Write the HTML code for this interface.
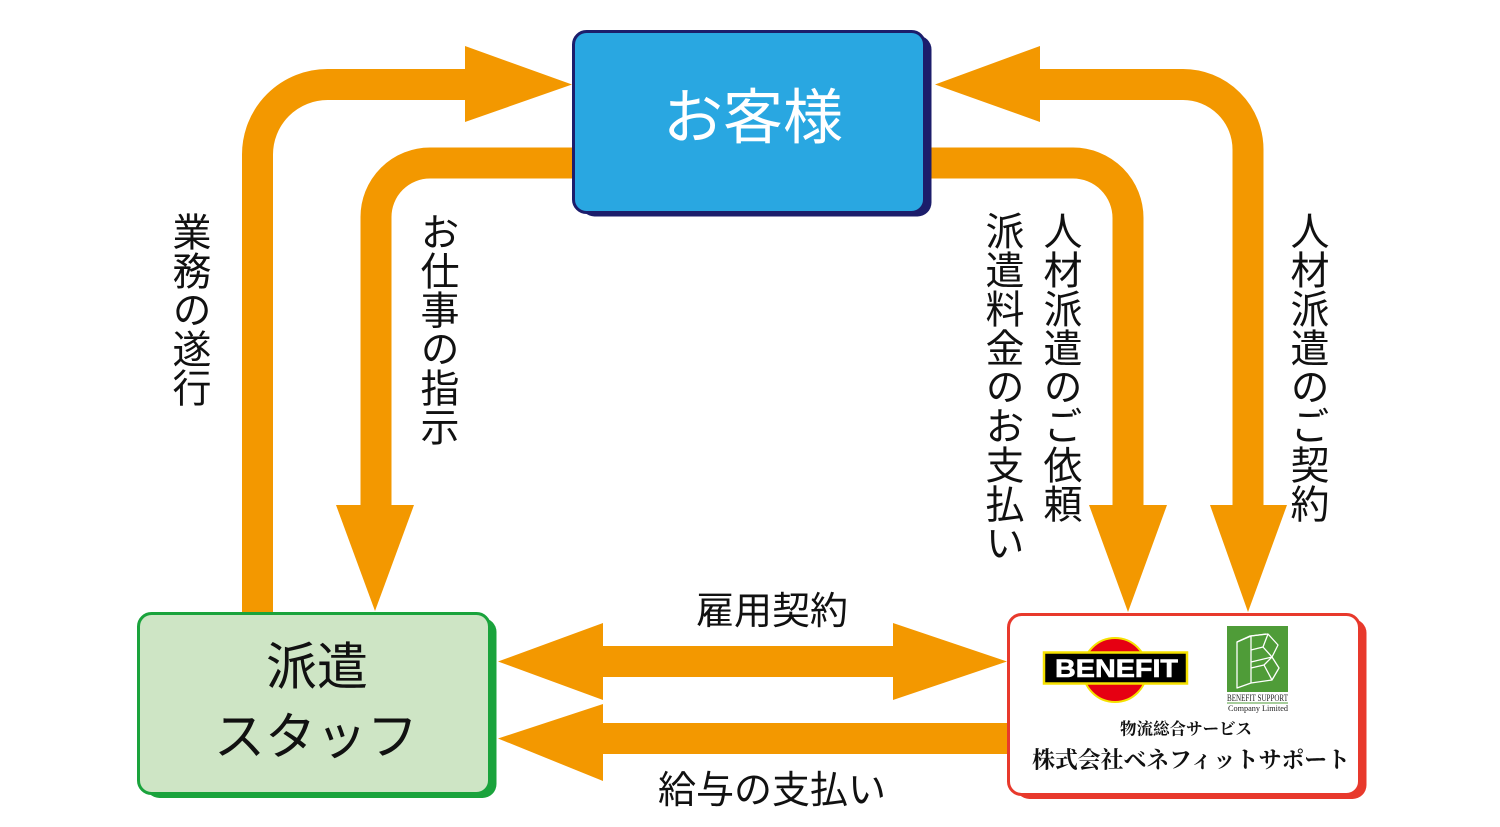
<!DOCTYPE html>
<html><head><meta charset="utf-8">
<style>
html,body{margin:0;padding:0;background:#fff;}
#wrap{position:relative;width:1500px;height:827px;overflow:hidden;background:#fff;}
svg{position:absolute;left:0;top:0;}
.v{position:absolute;writing-mode:vertical-rl;font-family:"Liberation Sans","Noto Sans CJK JP",sans-serif;font-size:39px;line-height:39px;color:#111;white-space:nowrap;}
</style></head><body>
<div id="wrap">
<svg width="1500" height="827" viewBox="0 0 1500 827" xmlns="http://www.w3.org/2000/svg">
  <g fill="none" stroke="#f39800" stroke-width="31" stroke-linecap="butt">
    <path d="M257.5,613 V154.5 A70,70 0 0 1 327.5,84.5 H467"/>
    <path d="M574,163 H430 A54,54 0 0 0 376,217 V507"/>
    <path d="M931,163 H1073 A55,55 0 0 1 1128,218 V507"/>
    <path d="M1038,84.5 H1183 A65,65 0 0 1 1248,149.5 V507"/>
  </g>
  <g fill="#f39800">
    <polygon points="465,46 572,84.5 465,122"/>
    <polygon points="336,505 414,505 375,611"/>
    <polygon points="1089,505 1167,505 1128,612"/>
    <polygon points="1040,46 935,84.5 1040,122"/>
    <polygon points="1210,505 1287,505 1248,612"/>
    <rect x="601" y="646" width="294" height="31"/>
    <polygon points="603,623 498,661.5 603,700"/>
    <polygon points="893,623 1007,661.5 893,700"/>
    <rect x="601" y="723" width="408" height="31"/>
    <polygon points="603,704 498,738.5 603,781"/>
  </g>

  <!-- customer box -->
  <rect x="580.5" y="35.5" width="351" height="181" rx="14" fill="#1c1d6b"/>
  <rect x="573.5" y="31.5" width="351" height="181" rx="13" fill="#29a7e1" stroke="#1c1d6b" stroke-width="3"/>
  <text x="753" y="118" text-anchor="middle" dominant-baseline="central" font-family="Liberation Sans, Noto Sans CJK JP, sans-serif" font-size="60" fill="#fff">お客様</text>

  <!-- staff box -->
  <rect x="145.5" y="618" width="351" height="180" rx="14" fill="#1aa33c"/>
  <rect x="138.5" y="613.5" width="351" height="180" rx="13" fill="#cee5c5" stroke="#1aa33c" stroke-width="3"/>
  <text x="317" y="667" text-anchor="middle" dominant-baseline="central" font-family="Liberation Sans, Noto Sans CJK JP, sans-serif" font-size="51" fill="#111">派遣</text>
  <text x="316" y="737" text-anchor="middle" dominant-baseline="central" font-family="Liberation Sans, Noto Sans CJK JP, sans-serif" font-size="51" fill="#111">スタッフ</text>

  <!-- benefit box -->
  <rect x="1015.5" y="619" width="351" height="180" rx="14" fill="#e8392c"/>
  <rect x="1008.5" y="614.5" width="351" height="180" rx="13" fill="#fff" stroke="#e8392c" stroke-width="3"/>

  <!-- BENEFIT logo -->
  <circle cx="1115" cy="670" r="32" fill="#e60012" stroke="#f5e100" stroke-width="2"/>
  <rect x="1044" y="652.5" width="143" height="31" fill="#000" stroke="#f5e100" stroke-width="2.5"/>
  <text x="1055" y="677" font-family="Liberation Sans, DejaVu Sans, sans-serif" font-weight="bold" font-size="25" fill="#fff" textLength="123" lengthAdjust="spacingAndGlyphs" stroke="#fff" stroke-width="0.6">BENEFIT</text>

  <!-- Benefit support logo -->
  <rect x="1227" y="626" width="61" height="66" fill="#4f9c38"/>
  <g fill="none" stroke="#fff" stroke-width="1.3" stroke-linejoin="round">
    <polygon points="1237,642 1251,636 1251,683 1237,688"/>
    <polyline points="1237,642 1250,636 1268,634 1278,645 1272,657 1279,668 1272,680 1251,683"/>
    <polyline points="1251,636 1266,634"/>
    <polyline points="1251,650 1263,647 1268,634"/>
    <polyline points="1263,647 1272,657 1251,662"/>
    <polyline points="1251,668 1264,665 1272,680"/>
    <polyline points="1264,665 1272,657"/>
  </g>
  <text x="1227" y="701" font-family="Liberation Serif, serif" font-size="9" fill="#222" textLength="61" lengthAdjust="spacingAndGlyphs">BENEFIT SUPPORT</text>
  <rect x="1227" y="702.5" width="61" height="1" fill="#4f9c38"/>
  <text x="1228" y="711" font-family="Liberation Serif, serif" font-size="8" fill="#222" textLength="60" lengthAdjust="spacingAndGlyphs">Company Limited</text>

  <text x="1186" y="729" text-anchor="middle" dominant-baseline="central" font-family="Liberation Serif, Noto Serif CJK SC, serif" font-weight="bold" font-size="16.5" fill="#111">物流総合サービス</text>
  <text x="1032" y="760" dominant-baseline="central" font-family="Liberation Serif, Noto Serif CJK SC, serif" font-weight="bold" font-size="23" fill="#111" textLength="318" lengthAdjust="spacing">株式会社ベネフィットサポート</text>

  <!-- horizontal labels -->
  <text x="772" y="612" text-anchor="middle" dominant-baseline="central" font-family="Liberation Sans, Noto Sans CJK JP, sans-serif" font-size="38" fill="#111">雇用契約</text>
  <text x="772" y="791" text-anchor="middle" dominant-baseline="central" font-family="Liberation Sans, Noto Sans CJK JP, sans-serif" font-size="38" fill="#111">給与の支払い</text>
</svg>

<div class="v" style="left:169px;top:212px;">業務の遂行</div>
<div class="v" style="left:417px;top:212px;">お仕事の指示</div>
<div class="v" style="left:982px;top:211px;">派遣料金のお支払い</div>
<div class="v" style="left:1040px;top:211px;">人材派遣のご依頼</div>
<div class="v" style="left:1287px;top:211px;">人材派遣のご契約</div>
</div>
</body></html>
